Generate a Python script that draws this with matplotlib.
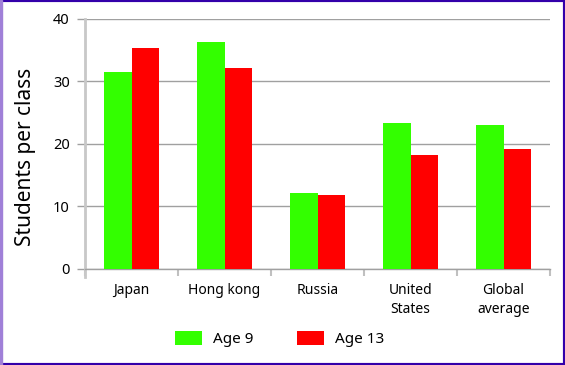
import numpy as np
import matplotlib.pyplot as plt
from matplotlib.patches import Rectangle

plt.rcParams['font.family'] = ['Noto Sans', 'DejaVu Sans']

categories = ["Japan", "Hong kong", "Russia", "United\nStates", "Global\naverage"]
age9 = [31.5, 36.3, 12.1, 23.3, 23.0]
age13 = [35.3, 32.1, 11.8, 18.2, 19.2]

fig = plt.figure(figsize=(5.65, 3.65), dpi=100)
ax = fig.add_axes([85/565, 1-269/365, 465/565, 250.5/365])

x = np.arange(len(categories))
w = 0.295
ax.bar(x - w/2, age9, w, color="#33ff00", label="Age 9", zorder=3)
ax.bar(x + w/2, age13, w, color="#ff0000", label="Age 13", zorder=3)

ax.set_xlim(-0.5, len(categories) - 0.5)
ax.set_ylim(0, 40)
ax.set_yticks([0, 10, 20, 30, 40])
ax.yaxis.grid(True, color="#a0a0a0", linewidth=1, zorder=0)
ax.tick_params(axis="y", length=6, color="#a0a0a0", width=1, labelsize=10.5, pad=5)

ax.set_xticks(x)
ax.set_xticklabels(categories, fontsize=10, linespacing=1.35)
ax.set_xticks(np.arange(-0.5, len(categories)), minor=True)
ax.tick_params(axis="x", which="major", length=0, pad=10)
ax.tick_params(axis="x", which="minor", length=5, color="#c0c0c0", width=1.5)

for s in ["top", "right"]:
    ax.spines[s].set_visible(False)
ax.spines["left"].set_color("#c8c8c8")
ax.spines["left"].set_linewidth(2)
ax.spines["left"].set_bounds(-1.2, 40)
ax.spines["bottom"].set_color("#a0a0a0")
ax.spines["bottom"].set_linewidth(1)

ax.set_ylabel("Students per class", fontsize=15)
ax.yaxis.set_label_coords(-0.105, 0.447)

fig.legend(loc="center", bbox_to_anchor=(0.495, 1-339/365), ncol=2, frameon=False,
           fontsize=11, handlelength=1.75, handleheight=1.1, handletextpad=0.7,
           columnspacing=2.9)

# frame around the picture
fig.patches.append(Rectangle((0, 0), 1, 1, transform=fig.transFigure, fill=False,
                             edgecolor="#3300aa", linewidth=3))
fig.patches.append(Rectangle((0, 0), 2/565, 1, transform=fig.transFigure,
                             color="#a080d8", zorder=5))

fig.savefig("out.png", dpi=100)
